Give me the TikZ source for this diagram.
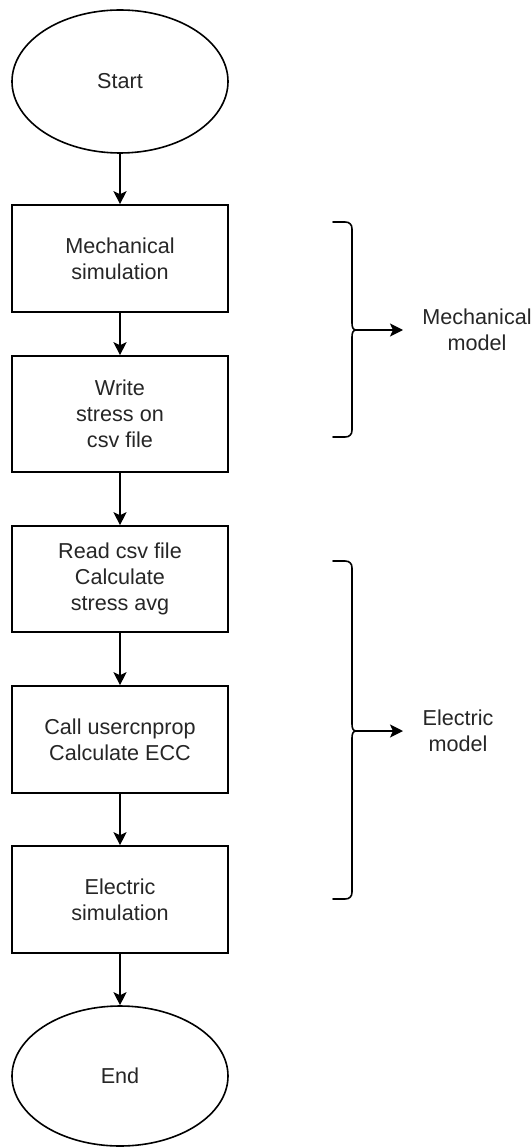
\documentclass[tikz,border=0pt]{standalone}
\usepackage{fontspec}
\setmainfont{Liberation Sans}
\usetikzlibrary{shapes.geometric,arrows.meta}
\tikzset{
  lbl/.style={font=\fontsize{21.6}{26}\selectfont, align=center, text=black!85},
  procbox/.style={lbl, draw, line width=1.6pt, rectangle, minimum width=216pt, inner sep=0pt},
  term/.style={lbl, draw, line width=1.6pt, ellipse, minimum width=216pt, inner sep=0pt},
  flow/.style={line width=1.6pt, -{Stealth[length=13pt,width=13pt,inset=3pt]}},
  bracepath/.style={line width=1.6pt, line cap=round, line join=round},
}
\begin{document}
\begin{tikzpicture}[x=1pt,y=-1pt]
\useasboundingbox (0,0) rectangle (531,1147);
\fill[white] (0,0) rectangle (531,1147);

\node[term, minimum height=143pt] (start) at (120,81.5) {Start};
\node[procbox, minimum height=107pt] (mech) at (120,258.5) {Mechanical\\simulation};
\node[procbox, minimum height=116pt] (write) at (120,414) {Write\\stress on\\csv file};
\node[procbox, minimum height=106pt] (read) at (120,579) {Read csv file\\Calculate\\stress avg};
\node[procbox, minimum height=107pt] (call) at (120,739.5) {Call usercnprop\\Calculate ECC};
\node[procbox, minimum height=107pt] (elec) at (120,899.5) {Electric\\simulation};
\node[term, minimum height=140pt] (end) at (120,1076) {End};

\draw[flow] (start) -- (mech);
\draw[flow] (mech) -- (write);
\draw[flow] (write) -- (read);
\draw[flow] (read) -- (call);
\draw[flow] (call) -- (elec);
\draw[flow] (elec) -- (end);

% Mechanical brace
\draw[bracepath] (333,222) -- (345,222) .. controls (349.5,222) and (352,224.5) .. (352,229)
  -- (352,323) .. controls (352,327) and (353,330) .. (356,330)
  .. controls (353,330) and (352,333) .. (352,337)
  -- (352,430) .. controls (352,434.5) and (349.5,437) .. (345,437) -- (333,437);
\coordinate (mb) at (355,330);
\coordinate (mt) at (403,330);
\draw[flow] (mb) -- (mt);
\node[lbl] (mlabel) at (477,330) {Mechanical\\model};

% Electric brace
\draw[bracepath] (333,561) -- (345,561) .. controls (349.5,561) and (352,563.5) .. (352,568)
  -- (352,724) .. controls (352,728) and (353,731) .. (356,731)
  .. controls (353,731) and (352,734) .. (352,738)
  -- (352,892) .. controls (352,896.5) and (349.5,899) .. (345,899) -- (333,899);
\coordinate (eb) at (355,731);
\coordinate (et) at (403,731);
\draw[flow] (eb) -- (et);
\node[lbl] (elabel) at (458,731) {Electric\\model};
\end{tikzpicture}
\end{document}
